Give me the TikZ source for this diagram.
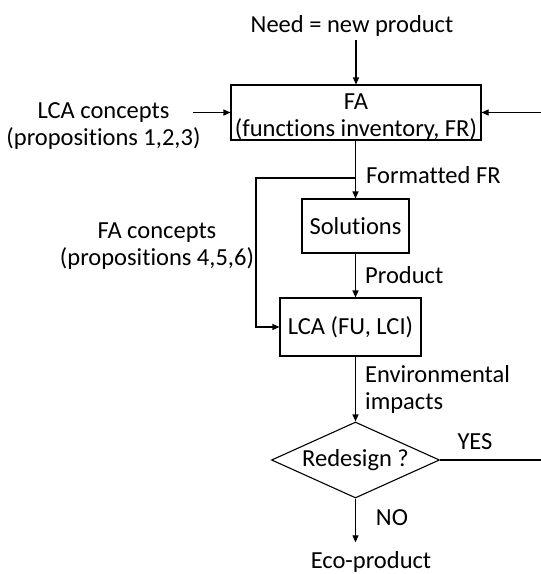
\documentclass[tikz,border=0pt]{standalone}
\usepackage{fontspec}
\setmainfont[Ligatures=NoCommon]{Carlito}
\usetikzlibrary{positioning, shapes.geometric, arrows.meta}
\tikzset{
	procnode/.style={
			shape=rectangle,
			draw=black,
			line width=1.1pt,
			inner sep=0pt,
			align=center
		},
	decnode/.style={
			diamond,
			draw=black,
			line width=1.1pt,
			aspect=2.2,
			inner sep=0pt
		},
	labelnode/.style={
			inner sep=0pt,
			align=center
		}
}
\tikzset{
	flowarrow/.style={-{Triangle[length=7pt,width=6pt]}, line width=1.1pt},
	flowline/.style={line width=1.1pt}
}
\begin{document}
\begin{tikzpicture}[x=1pt, y=-1pt, font=\fontsize{24.5}{27}\selectfont]
	\useasboundingbox (0,0) rectangle (541,574);

	\node[procnode, minimum width=250pt, minimum height=53pt] (fa) at (356,112.5) {\rule{0pt}{24pt}FA\\(functions inventory, FR)};
	\node[procnode, minimum width=107pt, minimum height=54pt] (sol) at (355.5,226) {Solutions};
	\node[procnode, minimum width=141pt, minimum height=58pt] (lca) at (350.5,327) {LCA (FU, LCI)};
	\node[decnode, minimum width=168pt, minimum height=76pt] (redesign) at (355.5,460) {Redesign ?};

	\node[labelnode] (need) at (352,26) {Need = new product};
	\node[labelnode] (lcac) at (103.5,126) {LCA concepts\\(propositions 1,2,3)};
	\node[labelnode] (fac) at (157,246) {FA concepts\\(propositions 4,5,6)};
	\node[labelnode, anchor=west] (fmtfr) at (366,175) {Formatted FR};
	\node[labelnode, anchor=west] (prod) at (365,275) {Product};
	\node[labelnode, anchor=west, align=left] (envimp) at (365,389) {Environmental\\impacts};
	\node[labelnode] (yes) at (475,442) {YES};
	\node[labelnode] (no) at (392,518) {NO};
	\node[labelnode] (eco) at (371,562) {Eco-product};

	\coordinate (lcain) at (193,112.5);
	\coordinate (back) at (541,112.5);
	\coordinate (split) at (355.5,178);
	\coordinate (fbturn) at (256,178);
	\coordinate (yesend) at (541,460);

	% inputs of the FA box
	\draw[flowarrow] ([yshift=-3pt]need.south -| fa.north) -- (fa.north);
	\draw[flowarrow] (lcain) -- (fa.west);
	\draw[flowarrow] (back) -- (fa.east);

	% main flow
	\draw[flowarrow] (fa.south -| sol.north) -- (sol.north);
	\draw[flowarrow] (split) -- (fbturn) |- (lca.west);
	\draw[flowarrow] (sol.south) -- (sol.south |- lca.north);
	\draw[flowarrow] (lca.south -| redesign.north) -- (redesign.north);
	\draw[flowline] (redesign.east) -- (yesend);
	\draw[flowarrow] (redesign.south) -- ([yshift=9pt]redesign.south |- eco.north);
\end{tikzpicture}
\end{document}
